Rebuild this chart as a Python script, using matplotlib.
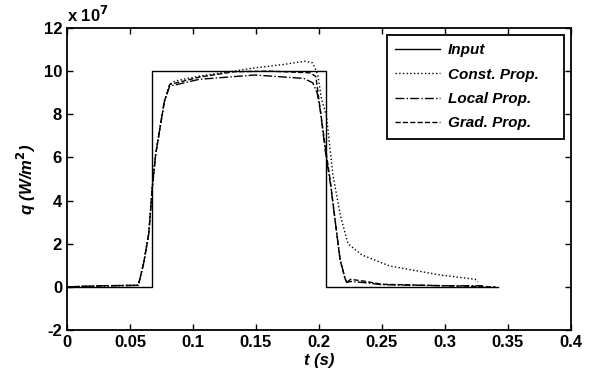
import matplotlib
matplotlib.use("Agg")
import matplotlib.pyplot as plt

plt.rcParams["font.family"] = ["Liberation Sans", "DejaVu Sans"]
plt.rcParams["font.weight"] = "bold"
plt.rcParams["axes.unicode_minus"] = False

# heat flux in units of 1e7 W/m^2
t_input = [0.0, 0.0677, 0.0677, 0.2052, 0.2052, 0.342]
q_input = [0.0, 0.0, 10.0, 10.0, 0.0, 0.0]

t_const = [0.0, 0.03, 0.0566, 0.0608, 0.0649, 0.0677, 0.0704, 0.0773, 0.0815, 0.0856,
           0.105, 0.1326, 0.149, 0.171, 0.189, 0.195, 0.199, 0.202, 0.206, 0.211,
           0.217, 0.223, 0.234, 0.256, 0.296, 0.324, 0.326]
q_const = [0.0, 0.05, 0.07, 1.08, 2.46, 4.6, 6.15, 8.6, 9.38, 9.54,
           9.77, 10.0, 10.15, 10.3, 10.46, 10.38, 9.85, 8.7, 7.9, 5.2,
           3.3, 2.0, 1.48, 0.97, 0.55, 0.35, 0.22]

t_local = [0.0, 0.03, 0.0566, 0.0608, 0.0649, 0.0677, 0.0704, 0.0773, 0.0815, 0.105,
           0.149, 0.174, 0.188, 0.195, 0.1985, 0.201, 0.205, 0.209, 0.2167, 0.2206,
           0.222, 0.225, 0.235, 0.25, 0.30, 0.33]
q_local = [0.0, 0.05, 0.07, 1.08, 2.46, 4.6, 6.15, 8.6, 9.3, 9.62,
           9.82, 9.72, 9.66, 9.46, 9.0, 8.2, 6.3, 4.8, 1.3, 0.4,
           0.2, 0.25, 0.2, 0.1, 0.05, 0.05]

t_grad = [0.0, 0.03, 0.0566, 0.0608, 0.0649, 0.0677, 0.0704, 0.0773, 0.0815, 0.105,
          0.1326, 0.160, 0.193, 0.1975, 0.2, 0.205, 0.209, 0.2167, 0.2206, 0.222,
          0.225, 0.235, 0.25, 0.30, 0.34]
q_grad = [0.0, 0.05, 0.07, 1.08, 2.46, 4.6, 6.15, 8.6, 9.38, 9.72,
          9.97, 10.0, 9.92, 9.75, 8.66, 6.5, 4.9, 1.25, 0.4, 0.2,
          0.35, 0.27, 0.12, 0.05, 0.0]

fig = plt.figure(figsize=(6.05, 3.89), dpi=100)
ax = fig.add_axes([0.1107, 0.1517, 0.8331, 0.7764])

ax.plot(t_input, q_input, "k-", lw=1.0, label="Input")
ax.plot(t_const, q_const, "k:", lw=1.0, label="Const. Prop.")
ax.plot(t_local, q_local, "k-.", lw=1.0, label="Local Prop.")
ax.plot(t_grad, q_grad, "k--", lw=1.0, label="Grad. Prop.")

ax.set_xlim(0, 0.4)
ax.set_ylim(-2, 12)
ax.set_xticks([0, 0.05, 0.1, 0.15, 0.2, 0.25, 0.3, 0.35, 0.4])
ax.set_xticklabels(["0", "0.05", "0.1", "0.15", "0.2", "0.25", "0.3", "0.35", "0.4"])
ax.set_yticks(range(-2, 13, 2))
ax.tick_params(direction="in", top=True, right=True, labelsize=12, width=1.0, length=4)
for lab in ax.get_xticklabels() + ax.get_yticklabels():
    lab.set_fontweight("bold")
for s in ax.spines.values():
    s.set_linewidth(1.3)

ax.set_xlabel("t (s)", fontsize=12, fontweight="bold", fontstyle="italic", labelpad=2)
ax.set_ylabel("q (W/m$^{\\mathbf{2}}$)", fontsize=12, fontweight="bold", fontstyle="italic", labelpad=4)
ax.text(0.0, 1.01, "x 10$^{\\mathbf{7}}$", transform=ax.transAxes, fontsize=12,
        fontweight="bold", ha="left", va="bottom")

# MATLAB-style legend box: wider than its content, anchored top-right
leg = ax.legend(loc="upper left", bbox_to_anchor=(0.635, 0.5, 0.351, 0.477), mode="expand",
                borderaxespad=0, prop={"weight": "bold", "style": "italic", "size": 11},
                fancybox=False, edgecolor="black", framealpha=1, handlelength=2.9,
                borderpad=0.55, labelspacing=0.68, handletextpad=0.55)
leg.get_frame().set_linewidth(1.3)

fig.savefig("out.png", dpi=100)
